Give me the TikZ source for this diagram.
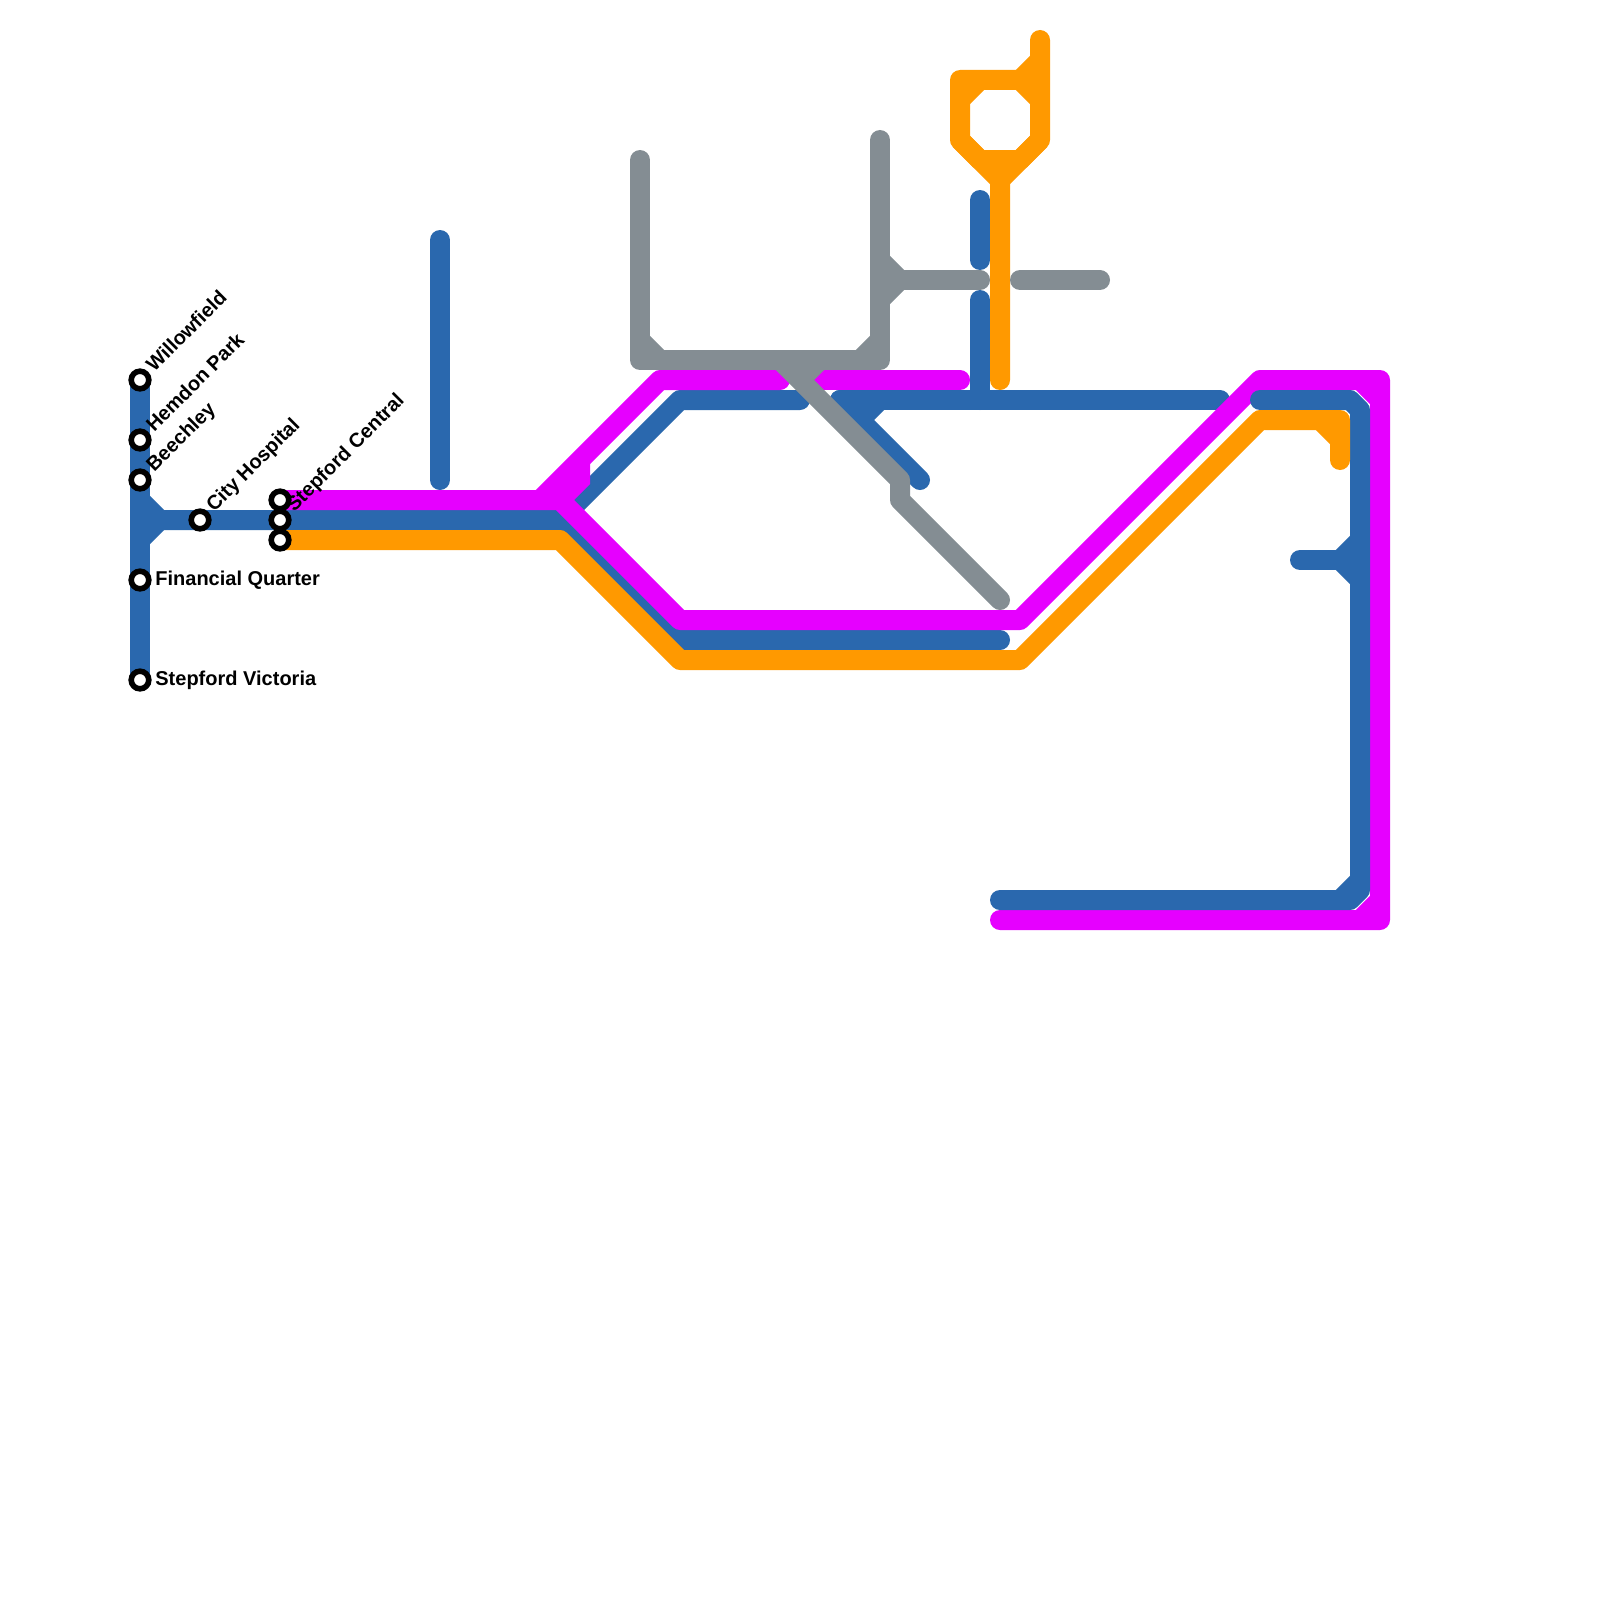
\documentclass[tikz,border=0pt]{standalone}
\usepackage{fontspec}
\setmainfont{Liberation Sans}
\definecolor{lblue}{HTML}{2A68AE}
\definecolor{lmag}{HTML}{E600FF}
\definecolor{lorange}{HTML}{FF9900}
\definecolor{lgray}{HTML}{848D93}
\tikzset{
  metro/.style={line width=10pt,line cap=round,line join=round},
  bluel/.style={metro,draw=lblue},
  magl/.style={metro,draw=lmag},
  orl/.style={metro,draw=lorange},
  gryl/.style={metro,draw=lgray},
  stub/.style={line cap=butt,line join=miter},
  station/.style={circle,draw=black,fill=white,line width=2.8pt,minimum size=8.8pt,inner sep=0pt},
  lab/.style={font=\fontsize{10pt}{12pt}\selectfont\bfseries,text=black,inner sep=0pt},
  diag/.style={lab,rotate=45,anchor=base west},
  flat/.style={lab,anchor=base west}
}
\begin{document}
\begin{tikzpicture}[x=0.5pt,y=-0.5pt]
\useasboundingbox[fill=white] (0,0) rectangle (1600,1600);
% station positions
\coordinate (cWill) at (140,380);
\coordinate (cHern) at (140,440);
\coordinate (cBeech) at (140,480);
\coordinate (cCity) at (200,520);
\coordinate (cFin) at (140,580);
\coordinate (cVic) at (140,680);
\coordinate (cSa) at (280,500);
\coordinate (cSb) at (280,520);
\coordinate (cSc) at (280,540);
% blue
\draw[bluel] (cWill) -- (cVic);
\draw[bluel] (140,520) -- (cCity) -- (cSb) -- (560,520) -- (680,640) -- (1000,640);
\draw[bluel,stub] (140,500) -- (160,520) -- (140,540);
\draw[bluel] (440,240) -- (440,480);
\draw[bluel] (560,520) -- (680,400) -- (800,400);
\draw[bluel] (840,400) -- (1220,400);
\draw[bluel] (840,400) -- (920,480);
\draw[bluel,stub] (880,400) -- (860,420);
\draw[bluel] (980,200) -- (980,260);
\draw[bluel] (980,300) -- (980,400);
% magenta
\draw[magl] (cSa) -- (540,500) -- (660,380) -- (780,380);
\draw[magl] (820,380) -- (960,380);
\draw[magl] (540,500) -- (560,500) -- (680,620) -- (1020,620) -- (1260,380) -- (1380,380) -- (1380,920) -- (1000,920);
\draw[magl,stub] (580,460) -- (580,480) -- (560,500);
\draw[magl,stub] (1360,380) -- (1380,400);
\draw[magl,stub] (1380,900) -- (1360,920);
% blue, right side
\draw[bluel] (1260,400) -- (1350,400) -- (1360,410) -- (1360,890) -- (1350,900) -- (1000,900);
\draw[bluel,stub] (1360,880) -- (1340,900);
\draw[bluel] (1300,560) -- (1340,560);
\draw[bluel,stub] (1360,540) -- (1340,560) -- (1360,580);
% orange
\draw[orl] (cSc) -- (560,540) -- (680,660) -- (1020,660) -- (1260,420) -- (1340,420) -- (1340,460);
\draw[orl,stub] (1320,420) -- (1340,440);
\draw[orl] (1000,380) -- (1000,180) -- (960,140) -- (960,80) -- (1020,80);
\draw[orl] (1040,40) -- (1040,140) -- (1000,180);
\draw[orl] (980,160) -- (1020,160);
\draw[orl,stub] (1020,80) -- (1040,60);
\draw[orl,stub] (1020,80) -- (1040,100);
\draw[orl,stub] (980,80) -- (960,100);
\draw[orl,stub] (960,140) -- (980,160);
\draw[orl,stub] (1040,140) -- (1020,160);
% gray
\draw[gryl] (640,160) -- (640,360) -- (880,360) -- (880,140);
\draw[gryl,stub] (640,340) -- (660,360);
\draw[gryl,stub] (880,340) -- (860,360);
\draw[gryl,stub] (880,260) -- (900,280) -- (880,300);
\draw[gryl] (880,280) -- (980,280);
\draw[gryl] (1020,280) -- (1100,280);
\draw[gryl] (780,360) -- (900,480) -- (900,500) -- (1000,600);
\draw[gryl,stub] (820,360) -- (800,380);
% stations
\node[station] (will) at (cWill) {};
\node[station] (hern) at (cHern) {};
\node[station] (beech) at (cBeech) {};
\node[station] (city) at (cCity) {};
\node[station] (fin) at (cFin) {};
\node[station] (vic) at (cVic) {};
\node[station] (sa) at (cSa) {};
\node[station] (sb) at (cSb) {};
\node[station] (sc) at (cSc) {};
% labels
\node[diag] (lwill) at (154,373) {Willowfield};
\node[diag] (lhern) at (154,433) {Hemdon Park};
\node[diag] (lbeech) at (154,473) {Beechley};
\node[diag] (lcity) at (214,513) {City Hospital};
\node[diag] (lcent) at (294,513) {Stepford Central};
\node[flat] (lfin) at (155,585) {Financial Quarter};
\node[flat] (lvic) at (155,685) {Stepford Victoria};
\end{tikzpicture}
\end{document}
